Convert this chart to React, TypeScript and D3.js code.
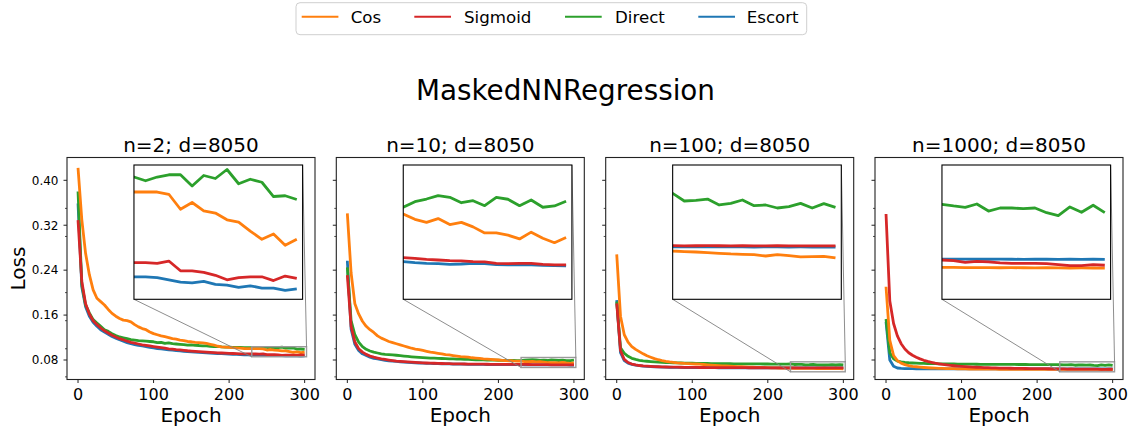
import React from "react";
import * as d3 from "d3";

const W = 1133;
const H = 430;
const FONT = "'DejaVu Sans', sans-serif";

// Epoch grid shared by every run (logged every 5 epochs)
const EPOCHS = d3.range(0, 301, 5);

const X_TICKS = [0, 100, 200, 300];
const Y_TICKS = [0.08, 0.16, 0.24, 0.32, 0.4];
const Y_MINOR = [0.05, 0.1, 0.15, 0.2, 0.3, 0.35];

const SERIES_NAMES = ["Cos", "Sigmoid", "Direct", "Escort"];
const COLORS: Record<string, string> = {
  Cos: "#ff7f0e",
  Sigmoid: "#d62728",
  Direct: "#2ca02c",
  Escort: "#1f77b4",
};
// later entries are painted on top
const DRAW_ORDER = ["Escort", "Direct", "Cos", "Sigmoid"];

const PANEL_TITLES = ["n=2; d=8050", "n=10; d=8050", "n=100; d=8050", "n=1000; d=8050"];

// ---- n = 2 ----
const COS_N2 = [
  0.422, 0.33, 0.27, 0.232, 0.205, 0.19, 0.184, 0.178, 0.17, 0.163,
  0.158, 0.154, 0.151, 0.15, 0.148, 0.143, 0.139, 0.136, 0.134, 0.13,
  0.127, 0.125, 0.123, 0.1215, 0.12, 0.118, 0.117, 0.1155, 0.1145, 0.113,
  0.1125, 0.1115, 0.111, 0.1105, 0.1095, 0.108, 0.1065, 0.1045, 0.1035, 0.103,
  0.1025, 0.1019, 0.1015, 0.101, 0.1005, 0.1003,
  0.1001, 0.1001, 0.1001, 0.0998, 0.0978, 0.0987, 0.0976, 0.0973, 0.0964, 0.0961,
  0.0949, 0.0938, 0.0945, 0.093, 0.0938,
];
const SIG_N2 = [
  0.329, 0.22, 0.18, 0.162, 0.15, 0.143, 0.137, 0.132, 0.128, 0.124,
  0.121, 0.118, 0.116, 0.1135, 0.1115, 0.11, 0.1085, 0.107, 0.106, 0.105,
  0.104, 0.103, 0.102, 0.101, 0.1, 0.0993, 0.0985, 0.098, 0.0972, 0.0965,
  0.096, 0.0955, 0.095, 0.0945, 0.094, 0.0936, 0.0932, 0.0928, 0.0925, 0.0921,
  0.0918, 0.0916, 0.0913, 0.0911, 0.0909, 0.0908,
  0.0907, 0.0907, 0.0906, 0.0909, 0.0896, 0.0896, 0.0894, 0.089, 0.0884, 0.0887,
  0.0888, 0.0888, 0.0883, 0.0889, 0.0886,
];
const DIR_N2 = [
  0.38, 0.215, 0.178, 0.164, 0.152, 0.146, 0.14, 0.134, 0.131, 0.127,
  0.1235, 0.121, 0.1195, 0.118, 0.1165, 0.1155, 0.1145, 0.114, 0.1135, 0.113,
  0.1125, 0.111, 0.1115, 0.1095, 0.1105, 0.109, 0.1085, 0.108, 0.1075, 0.1065,
  0.107, 0.106, 0.1058, 0.105, 0.1052, 0.1045, 0.104, 0.1042, 0.1035, 0.103,
  0.1028, 0.1025, 0.1024, 0.1023, 0.1022, 0.1022,
  0.1021, 0.1016, 0.1021, 0.1024, 0.1024, 0.1009, 0.1023, 0.1019, 0.1031, 0.1012,
  0.1018, 0.1014, 0.0995, 0.0996, 0.0991,
];
const ESC_N2 = [
  0.359, 0.21, 0.175, 0.158, 0.147, 0.14, 0.134, 0.13, 0.126, 0.122,
  0.119, 0.116, 0.1135, 0.111, 0.109, 0.1075, 0.106, 0.105, 0.104, 0.1025,
  0.1015, 0.1005, 0.0998, 0.099, 0.0982, 0.0975, 0.0968, 0.0962, 0.0956, 0.095,
  0.0945, 0.094, 0.0935, 0.0931, 0.0927, 0.0923, 0.092, 0.0916, 0.0913, 0.091,
  0.0906, 0.0903, 0.0899, 0.0896, 0.0893, 0.089,
  0.0888, 0.0888, 0.0887, 0.0884, 0.0881, 0.088, 0.0882, 0.0878, 0.0877, 0.0874,
  0.0876, 0.0873, 0.0873, 0.087, 0.0872,
];

// ---- n = 10 ----
const COS_N10 = [
  0.341, 0.235, 0.18, 0.162, 0.149, 0.14, 0.134, 0.129, 0.123, 0.119,
  0.116, 0.113, 0.111, 0.109, 0.107, 0.105, 0.103, 0.101, 0.0995, 0.0985,
  0.097, 0.0955, 0.094, 0.093, 0.092, 0.091, 0.0895, 0.089, 0.088, 0.087,
  0.086, 0.0855, 0.085, 0.084, 0.0835, 0.083, 0.082, 0.0815, 0.081, 0.0805,
  0.08, 0.0795, 0.079, 0.0787, 0.0783, 0.0781,
  0.078, 0.0773, 0.0769, 0.0774, 0.0766, 0.0769, 0.0763, 0.0755, 0.0755, 0.0752,
  0.0747, 0.0756, 0.0748, 0.0742, 0.0749,
];
const SIG_N10 = [
  0.2313, 0.14, 0.112, 0.1, 0.094, 0.09, 0.087, 0.085, 0.0835, 0.082,
  0.081, 0.08, 0.079, 0.078, 0.0775, 0.077, 0.0765, 0.0761, 0.0757, 0.0753,
  0.075, 0.0747, 0.0745, 0.0742, 0.074, 0.0738, 0.0736, 0.0734, 0.0733, 0.0731,
  0.073, 0.0729, 0.0728, 0.0727, 0.0726, 0.0726, 0.0725, 0.0725, 0.0724, 0.0724,
  0.0723, 0.0723, 0.0723, 0.0722, 0.0722, 0.0722,
  0.07222, 0.07213, 0.072, 0.07191, 0.07182, 0.07178, 0.07169, 0.07165, 0.07147, 0.07143,
  0.07147, 0.07147, 0.07134, 0.07125, 0.07125,
];
const DIR_N10 = [
  0.245, 0.15, 0.125, 0.112, 0.104, 0.099, 0.096, 0.094, 0.0925, 0.091,
  0.09, 0.0895, 0.089, 0.0885, 0.0878, 0.087, 0.0863, 0.0857, 0.0852, 0.0847,
  0.0843, 0.0839, 0.0835, 0.0832, 0.083, 0.0827, 0.0825, 0.0822, 0.082, 0.0817,
  0.0815, 0.0812, 0.081, 0.0807, 0.0805, 0.0804, 0.0802, 0.08, 0.0798, 0.0797,
  0.0796, 0.0795, 0.0793, 0.0792, 0.0791, 0.079,
  0.0789, 0.07964, 0.07999, 0.08043, 0.08022, 0.0795, 0.07977, 0.07911, 0.08022, 0.07996,
  0.07911, 0.07986, 0.0789, 0.07907, 0.07969,
];
const ESC_N10 = [
  0.2568, 0.135, 0.108, 0.097, 0.091, 0.088, 0.085, 0.083, 0.082, 0.0805,
  0.0795, 0.0787, 0.078, 0.0774, 0.0768, 0.0763, 0.0758, 0.0754, 0.075, 0.0747,
  0.0744, 0.0741, 0.0739, 0.0737, 0.0735, 0.0733, 0.0731, 0.073, 0.0728, 0.0727,
  0.0726, 0.0725, 0.0724, 0.0723, 0.0722, 0.0721, 0.0721, 0.072, 0.072, 0.0719,
  0.0719, 0.0718, 0.0718, 0.0717, 0.0717, 0.0717,
  0.07169, 0.07156, 0.07147, 0.07143, 0.07134, 0.07138, 0.07147, 0.07143, 0.0713, 0.07125,
  0.0713, 0.07125, 0.07121, 0.07116, 0.07112,
];

// ---- n = 100 ----
const COS_N100 = [
  0.268, 0.158, 0.125, 0.112, 0.104, 0.099, 0.095, 0.091, 0.0875, 0.085,
  0.0825, 0.0805, 0.079, 0.0777, 0.0766, 0.0757, 0.075, 0.0745, 0.074, 0.0737,
  0.0733, 0.0729, 0.0725, 0.072, 0.0715, 0.071, 0.0705, 0.0701, 0.0697, 0.0693,
  0.069, 0.0686, 0.0683, 0.068, 0.0677, 0.0674, 0.0672, 0.067, 0.0667, 0.0665,
  0.0663, 0.0661, 0.066, 0.0658, 0.0657, 0.0656,
  0.0654, 0.06532, 0.06527, 0.06518, 0.0651, 0.06501, 0.06496, 0.06492, 0.06474, 0.06492,
  0.06479, 0.06461, 0.06466, 0.0647, 0.06448,
];
const SIG_N100 = [
  0.181, 0.097, 0.081, 0.0755, 0.0728, 0.0712, 0.0702, 0.0695, 0.069, 0.0686,
  0.0683, 0.068, 0.0678, 0.0676, 0.0674, 0.0673, 0.0672, 0.0671, 0.067, 0.0669,
  0.0668, 0.0668, 0.0667, 0.0667, 0.0666, 0.0666, 0.0665, 0.0665, 0.0664, 0.0664,
  0.0664, 0.0663, 0.0663, 0.0663, 0.0663, 0.0662, 0.0662, 0.0662, 0.0662, 0.0662,
  0.0661, 0.0661, 0.0661, 0.0661, 0.0661, 0.0661,
  0.06612, 0.06609, 0.0661, 0.06611, 0.0661, 0.06608, 0.0661, 0.06609, 0.06608, 0.0661,
  0.06609, 0.06608, 0.06609, 0.06608, 0.06607,
];
const DIR_N100 = [
  0.184, 0.102, 0.092, 0.0865, 0.083, 0.081, 0.0795, 0.0785, 0.0778, 0.0772,
  0.0767, 0.0763, 0.0759, 0.0756, 0.0753, 0.0751, 0.0749, 0.0747, 0.0745, 0.0744,
  0.0742, 0.0741, 0.074, 0.0739, 0.0738, 0.0737, 0.0736, 0.0736, 0.0735, 0.0734,
  0.0734, 0.0733, 0.0733, 0.0732, 0.0732, 0.0731, 0.0731, 0.073, 0.073, 0.0729,
  0.0729, 0.0728, 0.0728, 0.0727, 0.0728, 0.0727,
  0.07305, 0.07203, 0.07212, 0.07229, 0.0715, 0.07172, 0.07216, 0.07141, 0.0715, 0.0711,
  0.07128, 0.07172, 0.0711, 0.07168, 0.07119,
];
const ESC_N100 = [
  0.1868, 0.093, 0.079, 0.0745, 0.0722, 0.0708, 0.0699, 0.0692, 0.0687, 0.0683,
  0.068, 0.0677, 0.0675, 0.0673, 0.0671, 0.067, 0.0669, 0.0668, 0.0667, 0.0666,
  0.0665, 0.0665, 0.0664, 0.0664, 0.0663, 0.0663, 0.0663, 0.0662, 0.0662, 0.0662,
  0.0662, 0.0661, 0.0661, 0.0661, 0.0661, 0.0661, 0.066, 0.066, 0.066, 0.066,
  0.066, 0.066, 0.066, 0.066, 0.066, 0.066,
  0.06596, 0.06595, 0.06594, 0.06595, 0.06596, 0.06594, 0.06595, 0.06593, 0.06594, 0.06595,
  0.06593, 0.06594, 0.06593, 0.06592, 0.06593,
];

// ---- n = 1000 ----
const COS_N1000 = [
  0.2105, 0.115, 0.088, 0.079, 0.0745, 0.0718, 0.07, 0.0688, 0.068, 0.0673,
  0.0667, 0.0662, 0.0658, 0.0655, 0.0652, 0.065, 0.0648, 0.0646, 0.0645, 0.0643,
  0.0642, 0.0641, 0.064, 0.0639, 0.0638, 0.0638, 0.0637, 0.0637, 0.0636, 0.0636,
  0.0635, 0.0635, 0.0635, 0.0634, 0.0634, 0.0634, 0.0634, 0.0633, 0.0633, 0.0633,
  0.0633, 0.0633, 0.0633, 0.0632, 0.0632, 0.0632,
  0.06323, 0.06322, 0.0632, 0.06321, 0.06319, 0.06318, 0.06319, 0.06318, 0.06317, 0.06318,
  0.06316, 0.06315, 0.06316, 0.06315, 0.06314,
];
const SIG_N1000 = [
  0.34, 0.185, 0.145, 0.123, 0.109, 0.0995, 0.093, 0.0885, 0.085, 0.082,
  0.0795, 0.0775, 0.076, 0.0745, 0.0733, 0.0722, 0.0713, 0.0705, 0.0698, 0.0692,
  0.0687, 0.0682, 0.0678, 0.0674, 0.0671, 0.0668, 0.0665, 0.0663, 0.0661, 0.0659,
  0.0657, 0.0656, 0.0654, 0.0653, 0.0652, 0.0651, 0.065, 0.0649, 0.0648, 0.0647,
  0.0646, 0.0645, 0.0645, 0.0644, 0.0643, 0.0643,
  0.06421, 0.06412, 0.0639, 0.06404, 0.06395, 0.06382, 0.06377, 0.06377, 0.06377, 0.06373,
  0.0636, 0.06346, 0.06346, 0.0636, 0.06351,
];
const DIR_N1000 = [
  0.153, 0.093, 0.082, 0.078, 0.0765, 0.0757, 0.0751, 0.0747, 0.0744, 0.0741,
  0.0739, 0.0737, 0.0735, 0.0734, 0.0732, 0.0731, 0.073, 0.0729, 0.0729, 0.0728,
  0.0727, 0.0727, 0.0726, 0.0725, 0.0725, 0.0724, 0.0724, 0.0723, 0.0723, 0.0722,
  0.0722, 0.0722, 0.0721, 0.0721, 0.0721, 0.072, 0.072, 0.072, 0.0719, 0.0719,
  0.0719, 0.0718, 0.0718, 0.0718, 0.0717, 0.0717,
  0.07159, 0.07137, 0.07119, 0.07163, 0.0707, 0.0711, 0.0711, 0.07101, 0.0711, 0.07048,
  0.07009, 0.07124, 0.07053, 0.07146, 0.07048,
];
const ESC_N1000 = [
  0.148, 0.08, 0.069, 0.0658, 0.0651, 0.0648, 0.0646, 0.0645, 0.0644, 0.0644,
  0.0643, 0.0643, 0.0643, 0.0643, 0.0643, 0.0643, 0.0643, 0.0643, 0.0643, 0.0643,
  0.0643, 0.0643, 0.0643, 0.0643, 0.0643, 0.0643, 0.0643, 0.0643, 0.0643, 0.0643,
  0.0643, 0.0643, 0.0643, 0.0643, 0.0643, 0.0643, 0.0643, 0.0643, 0.0643, 0.0643,
  0.0643, 0.0643, 0.0643, 0.0643, 0.0643, 0.0643,
  0.06432, 0.06431, 0.06432, 0.06431, 0.06431, 0.06432, 0.06431, 0.0643, 0.06431, 0.06431,
  0.0643, 0.06431, 0.0643, 0.06431, 0.0643,
];

// Zoomed-in window of each inset (epoch range is shared)
const INSET_X = [230, 302.5];
const INSET_Y_N2 = [0.0858, 0.1037];
const INSET_Y_N10 = [0.0667, 0.0845];
const INSET_Y_N100 = [0.059, 0.0768];
const INSET_Y_N1000 = [0.059, 0.0768];

const PANELS = [
  { title: PANEL_TITLES[0], data: { Cos: COS_N2, Sigmoid: SIG_N2, Direct: DIR_N2, Escort: ESC_N2 }, insetY: INSET_Y_N2 },
  { title: PANEL_TITLES[1], data: { Cos: COS_N10, Sigmoid: SIG_N10, Direct: DIR_N10, Escort: ESC_N10 }, insetY: INSET_Y_N10 },
  { title: PANEL_TITLES[2], data: { Cos: COS_N100, Sigmoid: SIG_N100, Direct: DIR_N100, Escort: ESC_N100 }, insetY: INSET_Y_N100 },
  { title: PANEL_TITLES[3], data: { Cos: COS_N1000, Sigmoid: SIG_N1000, Direct: DIR_N1000, Escort: ESC_N1000 }, insetY: INSET_Y_N1000 },
];

// Layout
const AX_LEFT = [67, 336.3, 605.7, 875];
const AX_W = 248;
const AX_TOP = 157.5;
const AX_H = 222;
const X_DOMAIN = [-14.6, 313.7];
const Y_DOMAIN = [0.0453, 0.4406];
const INSET_LEFT_FRAC = 0.27;
const INSET_W_FRAC = 0.68;
const INSET_TOP_OFF = 7.5;
const INSET_H = 134.3;
const LINE_W = 2.8;

function Panel({ idx }: { idx: number }) {
  const p = PANELS[idx];
  const L = AX_LEFT[idx];
  const R = L + AX_W;
  const T = AX_TOP;
  const B = AX_TOP + AX_H;
  const x = d3.scaleLinear().domain(X_DOMAIN).range([L, R]);
  const y = d3.scaleLinear().domain(Y_DOMAIN).range([B, T]);

  const iL = L + INSET_LEFT_FRAC * AX_W;
  const iR = iL + INSET_W_FRAC * AX_W;
  const iT = T + INSET_TOP_OFF;
  const iB = iT + INSET_H;
  const ix = d3.scaleLinear().domain(INSET_X).range([iL, iR]);
  const iy = d3.scaleLinear().domain(p.insetY).range([iB, iT]);

  const mainLine = d3
    .line<number>()
    .x((_, i) => x(EPOCHS[i]))
    .y((v) => y(v));
  const insetLine = d3
    .line<number>()
    .x((_, i) => ix(EPOCHS[i]))
    .y((v) => iy(v));

  const clipMain = `clip-main-${idx}`;
  const clipInset = `clip-inset-${idx}`;

  // zoom rectangle in data coordinates of the main axes
  const rx0 = x(INSET_X[0]);
  const rx1 = x(INSET_X[1]);
  const ry0 = y(p.insetY[1]);
  const ry1 = y(p.insetY[0]);

  return (
    <g>
      <defs>
        <clipPath id={clipMain}>
          <rect x={L} y={T} width={AX_W} height={AX_H} />
        </clipPath>
        <clipPath id={clipInset}>
          <rect x={iL} y={iT} width={iR - iL} height={iB - iT} />
        </clipPath>
      </defs>

      <g clipPath={`url(#${clipMain})`}>
        {DRAW_ORDER.map((name) => (
          <path
            key={name}
            d={mainLine((p.data as any)[name]) || ""}
            fill="none"
            stroke={COLORS[name]}
            strokeWidth={LINE_W}
            strokeLinejoin="round"
            strokeLinecap="butt"
          />
        ))}
      </g>

      {/* zoom window and its connectors */}
      <rect x={rx0} y={ry0} width={rx1 - rx0} height={ry1 - ry0} fill="none" stroke="#9a9a9a" strokeWidth={1.4} />
      <line x1={iL} y1={iB} x2={rx0} y2={ry1} stroke="#808080" strokeWidth={0.9} />
      <line x1={iR} y1={iT} x2={rx1} y2={ry0} stroke="#808080" strokeWidth={0.9} />

      {/* inset */}
      <rect x={iL} y={iT} width={iR - iL} height={iB - iT} fill="#fff" />
      <g clipPath={`url(#${clipInset})`}>
        {DRAW_ORDER.map((name) => (
          <path
            key={name}
            d={insetLine((p.data as any)[name]) || ""}
            fill="none"
            stroke={COLORS[name]}
            strokeWidth={LINE_W}
            strokeLinejoin="round"
          />
        ))}
      </g>
      <rect x={iL} y={iT} width={iR - iL} height={iB - iT} fill="none" stroke="#000" strokeWidth={1.1} />

      {/* axes frame */}
      <rect x={L} y={T} width={AX_W} height={AX_H} fill="none" stroke="#222" strokeWidth={1.1} />

      {/* x ticks */}
      {X_TICKS.map((t) => (
        <g key={t}>
          <line x1={x(t)} x2={x(t)} y1={B} y2={B + 3.5} stroke="#222" strokeWidth={1} />
          <text x={x(t)} y={400} textAnchor="middle" fontSize={16} fontFamily={FONT} fill="#000">
            {t}
          </text>
        </g>
      ))}

      {/* y ticks */}
      {Y_TICKS.map((t) => (
        <g key={t}>
          <line x1={L - 3.5} x2={L} y1={y(t)} y2={y(t)} stroke="#222" strokeWidth={1} />
          {idx === 0 && (
            <text x={L - 8.5} y={y(t)} dy="0.36em" textAnchor="end" fontSize={12} fontFamily={FONT} fill="#000">
              {t.toFixed(2)}
            </text>
          )}
        </g>
      ))}
      {Y_MINOR.map((t) => (
        <line key={t} x1={L - 2} x2={L} y1={y(t)} y2={y(t)} stroke="#222" strokeWidth={0.8} />
      ))}

      <text x={(L + R) / 2} y={151.5} textAnchor="middle" fontSize={20} fontFamily={FONT} fill="#000">
        {p.title}
      </text>
      <text x={(L + R) / 2} y={421.5} textAnchor="middle" fontSize={20} fontFamily={FONT} fill="#000">
        Epoch
      </text>
    </g>
  );
}

const LEGEND_LINE_X = [301.7, 414.3, 565, 698.3];
const LEGEND_TEXT_X = [350.7, 464, 615, 746.7];

function Legend() {
  return (
    <g>
      <rect x={296} y={2.7} width={510.7} height={32} rx={4} fill="#fff" stroke="#cfcfcf" strokeWidth={1} />
      {SERIES_NAMES.map((name, i) => (
        <g key={name}>
          <line
            x1={LEGEND_LINE_X[i]}
            x2={LEGEND_LINE_X[i] + 36.7}
            y1={16.8}
            y2={16.8}
            stroke={COLORS[name]}
            strokeWidth={2.1}
          />
          <text x={LEGEND_TEXT_X[i]} y={22.8} fontSize={16.67} fontFamily={FONT} fill="#000">
            {name}
          </text>
        </g>
      ))}
    </g>
  );
}

export default function App() {
  return (
    <svg
      width={W}
      height={H}
      viewBox={`0 0 ${W} ${H}`}
      style={{ position: "absolute", left: 0, top: 0, background: "#fff" }}
    >
      <rect x={0} y={0} width={W} height={H} fill="#fff" />
      <Legend />
      <text x={565.5} y={100} textAnchor="middle" fontSize={27.8} fontFamily={FONT} fill="#000">
        MaskedNNRegression
      </text>
      <text
        transform={`translate(25, ${AX_TOP + AX_H / 2}) rotate(-90)`}
        textAnchor="middle"
        fontSize={20}
        fontFamily={FONT}
        fill="#000"
      >
        Loss
      </text>
      {PANELS.map((_, i) => (
        <Panel key={i} idx={i} />
      ))}
    </svg>
  );
}
